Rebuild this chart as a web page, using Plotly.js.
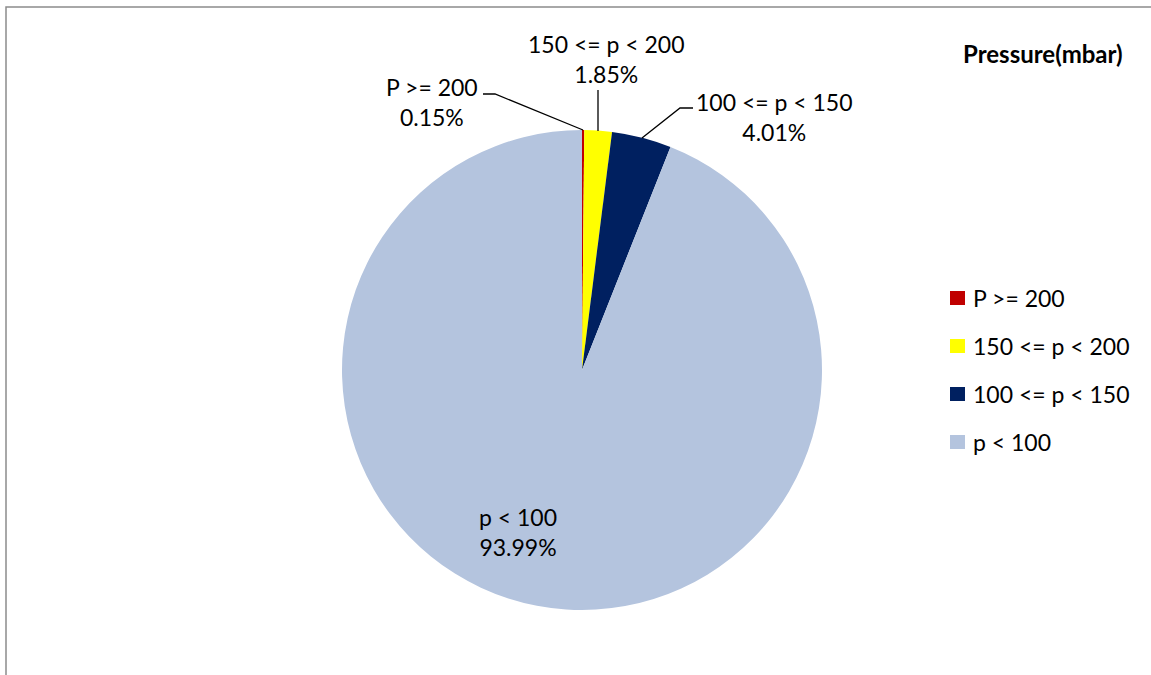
<!DOCTYPE html>
<html><head><meta charset="utf-8">
<script src="https://cdn.plot.ly/plotly-3.0.1.min.js"></script>
<style>html,body{margin:0;padding:0;background:#fff;}#chart{width:1151px;height:675px;}</style>
</head><body><div id="chart"></div>
<script>
const labels = ['P >= 200', '150 <= p < 200', '100 <= p < 150', 'p < 100'];
const values = [0.15, 1.85, 4.01, 93.99];
const colors = ['#C00000', '#FFFF00', '#002060', '#B4C4DE'];
const legendTitle = 'Pressure(mbar)';

const W = 1151, H = 675;
const px = x => x / W, py = y => 1 - y / H;
const FONT = 'Lato, "Liberation Sans", sans-serif';
const FS = 23;

// data label placement (layout only)
const labelPos = [
  {x: 432, y: 102, line: [[483,94],[495,94],[583,130]]},
  {x: 606, y: 59,  line: [[598,90],[598,131]]},
  {x: 774, y: 117, line: [[693,108],[680,108],[642,138]]},
  {x: 518, y: 532, line: null}
];

const annotations = [];
const shapes = [];
labels.forEach((lab, i) => {
  const p = labelPos[i];
  annotations.push({
    xref: 'paper', yref: 'paper', x: px(p.x), y: py(p.y),
    xanchor: 'center', yanchor: 'middle', showarrow: false,
    text: lab + '<br>' + values[i].toFixed(2) + '%',
    font: {family: FONT, size: FS, color: '#000'}
  });
  if (p.line) {
    const d = p.line.map((pt, k) => (k ? 'L' : 'M') + px(pt[0]) + ',' + py(pt[1])).join(' ');
    shapes.push({type: 'path', xref: 'paper', yref: 'paper', path: d, line: {color: '#000', width: 1.3}});
  }
  // legend entries
  const ly = 298 + i * 48;
  shapes.push({type: 'rect', xref: 'paper', yref: 'paper',
    x0: px(950), x1: px(965), y0: py(ly - 7), y1: py(ly + 7),
    fillcolor: colors[i], line: {width: 0}});
  annotations.push({xref: 'paper', yref: 'paper', x: px(971), y: py(ly),
    xanchor: 'left', yanchor: 'middle', showarrow: false, text: lab,
    font: {family: FONT, size: FS, color: '#000'}});
});
annotations.push({xref: 'paper', yref: 'paper', x: px(1043), y: py(53),
  xanchor: 'center', yanchor: 'middle', showarrow: false, text: '<b>' + legendTitle + '</b>',
  font: {family: FONT, size: 24, color: '#000'}});
// chart border
shapes.push({type: 'path', xref: 'paper', yref: 'paper',
  path: 'M' + px(6) + ',' + py(700) + ' L' + px(6) + ',' + py(7) + ' L' + px(1160) + ',' + py(7),
  line: {color: '#8c8c8c', width: 1.5}});

const trace = {
  type: 'pie', labels: labels, values: values, sort: false,
  direction: 'clockwise', rotation: 0,
  marker: {colors: colors, line: {width: 0}},
  textinfo: 'none', hoverinfo: 'label+percent', showlegend: false,
  domain: {x: [px(342), px(822)], y: [py(610), py(130)]}
};

Plotly.newPlot('chart', [trace], {
  width: W, height: H, margin: {l: 0, r: 0, t: 0, b: 0},
  paper_bgcolor: '#fff', plot_bgcolor: '#fff',
  showlegend: false, annotations: annotations, shapes: shapes
}, {displayModeBar: false, staticPlot: true});
</script></body></html>
